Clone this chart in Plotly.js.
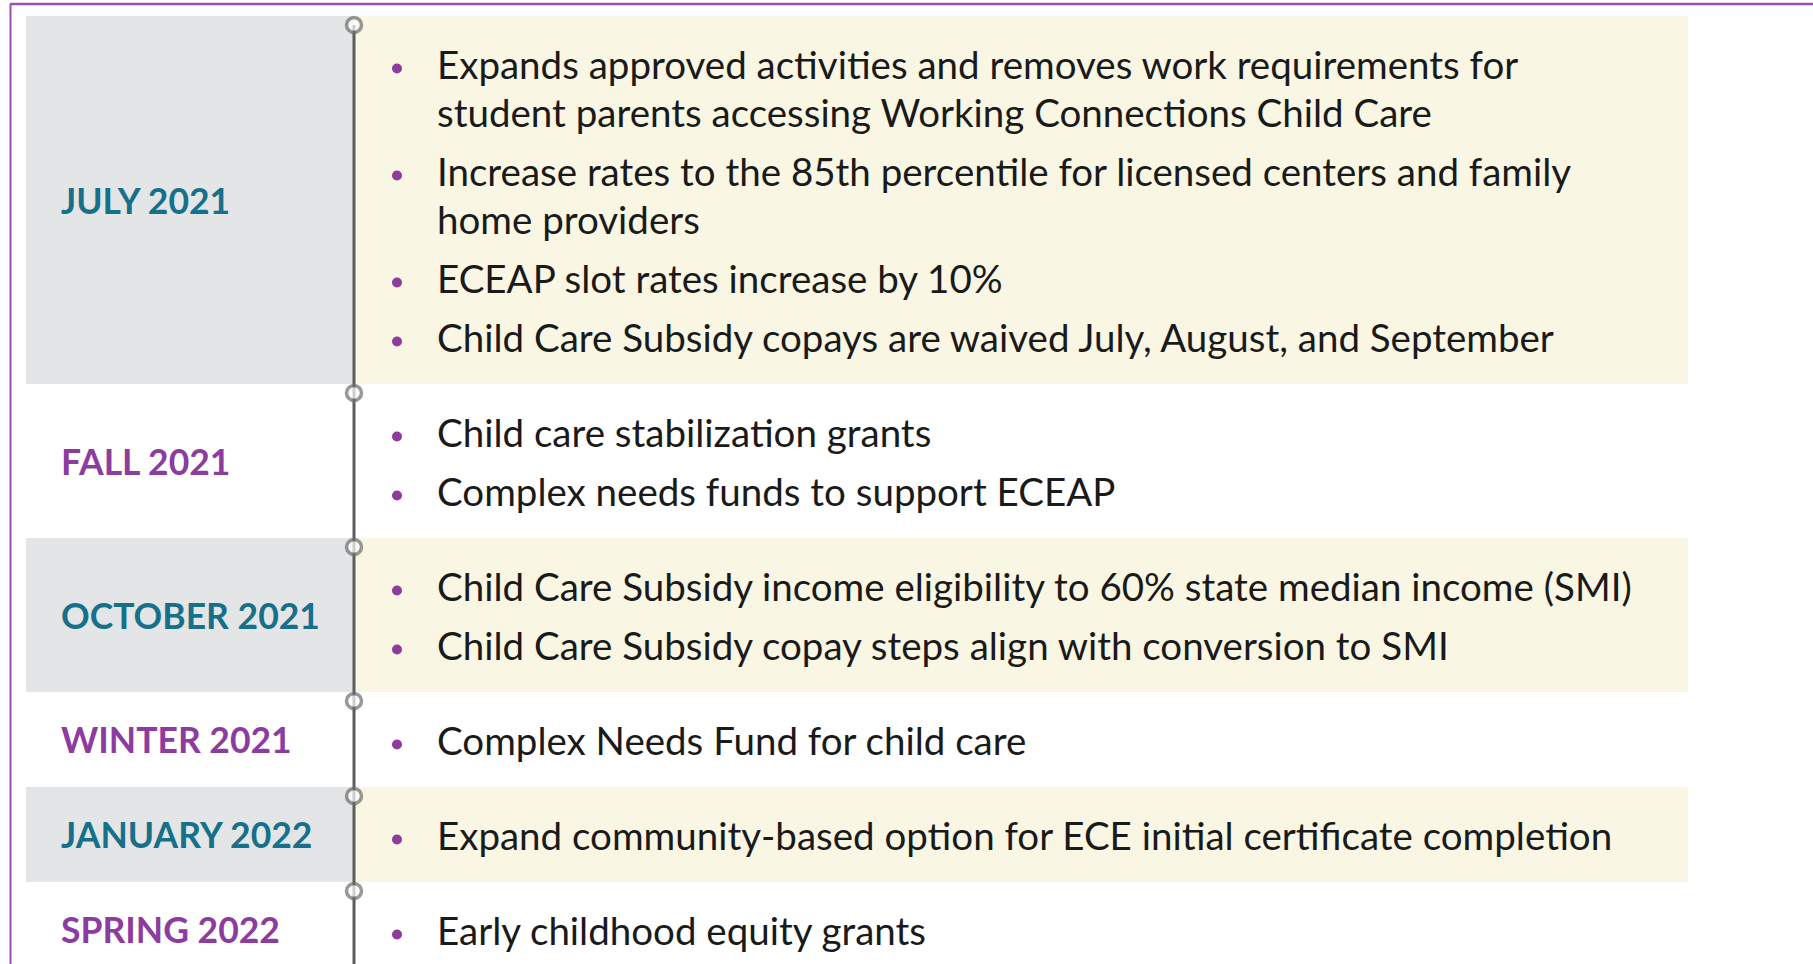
<!DOCTYPE html>
<html>
<head>
<meta charset="utf-8">
<script src="https://cdn.plot.ly/plotly-3.0.1.min.js"></script>
<style>html,body{margin:0;padding:0;background:#fff;}#chart{width:1813px;height:964px;}</style>
</head>
<body>
<div id="chart"></div>
<script>
// ---- data ----
const periods = ["JULY 2021", "FALL 2021", "OCTOBER 2021", "WINTER 2021", "JANUARY 2022", "SPRING 2022"];
const actionsJuly2021 = [
  ["Expands approved activities and removes work requirements for", "student parents accessing Working Connections Child Care"],
  ["Increase rates to the 85th percentile for licensed centers and family", "home providers"],
  ["ECEAP slot rates increase by 10%"],
  ["Child Care Subsidy copays are waived July, August, and September"]
];
const actionsFall2021 = [
  ["Child care stabilization grants"],
  ["Complex needs funds to support ECEAP"]
];
const actionsOctober2021 = [
  ["Child Care Subsidy income eligibility to 60% state median income (SMI)"],
  ["Child Care Subsidy copay steps align with conversion to SMI"]
];
const actionsWinter2021 = [["Complex Needs Fund for child care"]];
const actionsJanuary2022 = [["Expand community-based option for ECE initial certificate completion"]];
const actionsSpring2022 = [["Early childhood equity grants"]];
const actions = [actionsJuly2021, actionsFall2021, actionsOctober2021, actionsWinter2021, actionsJanuary2022, actionsSpring2022];

// ---- layout constants (styling / geometry) ----
const W = 1813, H = 964;
const TOP = 16, PAD = 36, LINE_H = 48, GAP = 11;
const GREY_X0 = 26, AXIS_X = 354, BEIGE_X1 = 1688;
const LABEL_X = 61, BULLET_X = 397, TEXT_X = 437;
const GREY = "#e4e5e7", BEIGE = "#f9f6e3";
const TEAL = "#17708a", PURPLE = "#8c3c9e", BULLET = "#8e3b9c";
const FONT = "Lato, 'Open Sans', sans-serif";

const shapes = [];
const tlX = [], tlY = [], tlSize = [];
const labX = [], labY = [], labText = [], labColor = [];
const bulX = [], bulY = [];
const txtX = [], txtY = [], txtText = [];

let y = TOP;
periods.forEach((p, i) => {
  const items = actions[i];
  const nLines = items.reduce((s, it) => s + it.length, 0);
  const nBul = items.length;
  const h = PAD + nLines * LINE_H + nBul * GAP;
  const contentH = nLines * LINE_H + (nBul - 1) * GAP;
  const shaded = i % 2 === 0;
  if (shaded) {
    shapes.push({type: "rect", xref: "x", yref: "y", x0: GREY_X0, x1: AXIS_X, y0: y, y1: y + h, fillcolor: GREY, line: {width: 0}, layer: "below"});
    shapes.push({type: "rect", xref: "x", yref: "y", x0: AXIS_X, x1: BEIGE_X1, y0: y, y1: y + h, fillcolor: BEIGE, line: {width: 0}, layer: "below"});
  }
  tlX.push(AXIS_X); tlY.push(y + 9); tlSize.push(15);
  labX.push(LABEL_X); labY.push(y + h / 2 + 5); labText.push("<b>" + p + "</b>"); labColor.push(shaded ? TEAL : PURPLE);
  let ly = y + (h - contentH) / 2 + LINE_H / 2 + 3;
  items.forEach(it => {
    bulX.push(BULLET_X); bulY.push(ly + 2);
    it.forEach(line => {
      txtX.push(TEXT_X); txtY.push(ly + 3); txtText.push(line);
      ly += LINE_H;
    });
    ly += GAP;
  });
  y += h;
});
tlX.push(AXIS_X); tlY.push(H + 40); tlSize.push(0);

// frame border
shapes.push({type: "line", xref: "x", yref: "y", x0: 10, x1: W, y0: 4, y1: 4, line: {color: "#9b4fb0", width: 2.5}});
shapes.push({type: "line", xref: "x", yref: "y", x0: 10.5, x1: 10.5, y0: 4, y1: H, line: {color: "#9b4fb0", width: 2}});

const traces = [
  {type: "scatter", mode: "lines+markers", x: tlX, y: tlY, hoverinfo: "skip",
   line: {color: "#5c5c5c", width: 3},
   marker: {symbol: "circle", size: tlSize, color: "#ffffff", line: {color: "#6e6e6e", width: 3.5}}},
  {type: "scatter", mode: "markers", x: bulX, y: bulY, hoverinfo: "skip",
   marker: {symbol: "circle", size: 10, color: BULLET}},
  {type: "scatter", mode: "text", x: txtX, y: txtY, text: txtText, textposition: "middle right", hoverinfo: "skip",
   textfont: {family: FONT, size: 38.5, color: "#1a1a1a"}},
  {type: "scatter", mode: "text", x: labX, y: labY, text: labText, textposition: "middle right", hoverinfo: "skip",
   textfont: {family: FONT, size: 35.5, color: labColor}}
];

const layout = {
  width: W, height: H,
  margin: {l: 0, r: 0, t: 0, b: 0},
  paper_bgcolor: "#ffffff", plot_bgcolor: "#ffffff",
  showlegend: false,
  xaxis: {range: [0, W], visible: false, fixedrange: true},
  yaxis: {range: [H, 0], visible: false, fixedrange: true},
  shapes: shapes
};

Plotly.newPlot("chart", traces, layout, {displayModeBar: false, staticPlot: true});
</script>
</body>
</html>
